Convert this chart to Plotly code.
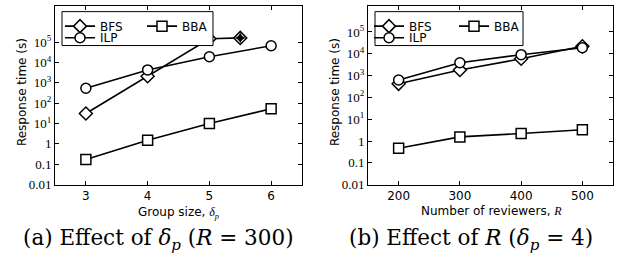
import plotly.graph_objects as go

# ---- data ----
group_size = [3, 4, 5, 6]
bfs_x_a = [3, 4, 5, 5.5]
bfs_a = [31, 2100, 145000, 160000]
bfs_timeout_x = [5.5]
bfs_timeout_y = [160000]
ilp_a = [540, 4300, 19000, 66000]
bba_a = [0.17, 1.5, 10, 53]

reviewers = [200, 300, 400, 500]
bfs_b = [420, 1800, 5900, 22000]
ilp_b = [630, 3900, 9100, 19000]
bba_b = [0.47, 1.55, 2.2, 3.3]

ytick_vals = [0.01, 0.1, 1, 10, 100, 1e3, 1e4, 1e5]
ytick_text = ["0.01", "0.1", "1", "10<sup>1</sup>", "10<sup>2</sup>", "10<sup>3</sup>",
              "10<sup>4</sup>", "10<sup>5</sup>"]

W, H = 624, 260
SANS = "DejaVu Sans"
SERIF = "Liberation Serif"
CAPSERIF = "DejaVu Serif"


def px(x):
    return x / W


def py(y):
    return 1 - y / H


def line_trace(x, y, symbol, name, xa, ya, legend, showlegend=True, size=10):
    return go.Scatter(
        x=x, y=y, mode="lines+markers", name=name,
        line=dict(color="black", width=1.6),
        marker=dict(symbol=symbol, size=size, color="white",
                    line=dict(color="black", width=1.5)),
        xaxis=xa, yaxis=ya, legend=legend, showlegend=showlegend,
    )


fig = go.Figure()
# subplot (a)
fig.add_trace(line_trace(bfs_x_a, bfs_a, "diamond", "BFS", "x", "y", "legend"))
fig.add_trace(go.Scatter(x=bfs_timeout_x, y=bfs_timeout_y, mode="markers", showlegend=False,
                         marker=dict(symbol="star-diamond", size=8, color="black"),
                         xaxis="x", yaxis="y"))
fig.add_trace(line_trace(group_size, ilp_a, "circle", "ILP", "x", "y", "legend3"))
fig.add_trace(line_trace(group_size, bba_a, "square", "BBA", "x", "y", "legend2"))
# subplot (b)
fig.add_trace(line_trace(reviewers, bfs_b, "diamond", "BFS", "x2", "y2", "legend4"))
fig.add_trace(line_trace(reviewers, ilp_b, "circle", "ILP", "x2", "y2", "legend6"))
fig.add_trace(line_trace(reviewers, bba_b, "square", "BBA", "x2", "y2", "legend5"))

ax_common = dict(showline=True, linecolor="black", linewidth=1, mirror="allticks",
                 ticks="inside", ticklen=4, tickcolor="black", showgrid=False,
                 zeroline=False)
yax = dict(type="log", tickvals=ytick_vals, ticktext=ytick_text,
           tickfont=dict(family=SERIF, size=13, color="black"), **ax_common)

leg_common = dict(bgcolor="rgba(0,0,0,0)", borderwidth=0, orientation="h",
                  font=dict(family=SANS, size=12, color="black"),
                  xanchor="left", yanchor="top", itemwidth=30, tracegroupgap=0)

ROW1, ROW2 = 12, 24

fig.update_layout(
    width=W, height=H, margin=dict(l=0, r=0, t=0, b=0),
    paper_bgcolor="white", plot_bgcolor="white",
    xaxis=dict(domain=[px(55), px(302)], range=[2.5, 6.5], tickvals=group_size,
               tickfont=dict(family=SANS, size=12, color="black"), anchor="y", **ax_common),
    yaxis=dict(domain=[py(190.5), py(6)], range=[-2, 6.78], anchor="x", **yax),
    xaxis2=dict(domain=[px(368), px(613)], range=[150, 550], tickvals=reviewers,
                tickfont=dict(family=SANS, size=12, color="black"), anchor="y2", **ax_common),
    yaxis2=dict(domain=[py(190.5), py(6)], range=[-2, 6.2], anchor="x2", **yax),
    legend=dict(x=px(60), y=py(ROW1), **leg_common),
    legend2=dict(x=px(142), y=py(ROW1), **leg_common),
    legend3=dict(x=px(60), y=py(ROW2), **leg_common),
    legend4=dict(x=px(369), y=py(ROW1), **leg_common),
    legend5=dict(x=px(454), y=py(ROW1), **leg_common),
    legend6=dict(x=px(369), y=py(ROW2), **leg_common),
    shapes=[
        dict(type="rect", xref="paper", yref="paper", x0=px(62), x1=px(213), y0=py(47), y1=py(12),
             line=dict(color="black", width=1), fillcolor="white", layer="above"),
        dict(type="rect", xref="paper", yref="paper", x0=px(375), x1=px(523), y0=py(47), y1=py(12),
             line=dict(color="black", width=1), fillcolor="white", layer="above"),
    ],
    annotations=[
        dict(text="Response time (s)", x=px(22), y=py(95), xref="paper", yref="paper",
             xanchor="center", yanchor="middle",
             textangle=-90, showarrow=False, font=dict(family=SANS, size=12, color="black")),
        dict(text="Response time (s)", x=px(335), y=py(95), xref="paper", yref="paper",
             xanchor="center", yanchor="middle",
             textangle=-90, showarrow=False, font=dict(family=SANS, size=12, color="black")),
        dict(text="Group size, <span style='font-family:Liberation Serif'><i>δ</i><sub><i>p</i></sub></span>",
             x=px(178), y=py(220), xref="paper", yref="paper", showarrow=False,
             xanchor="center", yanchor="middle",
             font=dict(family=SANS, size=12, color="black")),
        dict(text="Number of reviewers, <span style='font-family:Liberation Serif'><i>R</i></span>",
             x=px(491), y=py(218), xref="paper", yref="paper", showarrow=False,
             xanchor="center", yanchor="middle",
             font=dict(family=SANS, size=12, color="black")),
        dict(text="(a) Effect of <i>δ</i><sub><i>p</i></sub> (<i>R</i> = 300)",
             x=px(158), y=py(247), xref="paper", yref="paper", showarrow=False,
             xanchor="center", yanchor="middle",
             font=dict(family=CAPSERIF, size=21.5, color="black")),
        dict(text="(b) Effect of <i>R</i> (<i>δ</i><sub><i>p</i></sub> = 4)",
             x=px(471), y=py(247), xref="paper", yref="paper", showarrow=False,
             xanchor="center", yanchor="middle",
             font=dict(family=CAPSERIF, size=21.5, color="black")),
    ],
)

fig.write_html("out.html", config={"displayModeBar": False},
               post_script="document.body.style.margin='0';")
